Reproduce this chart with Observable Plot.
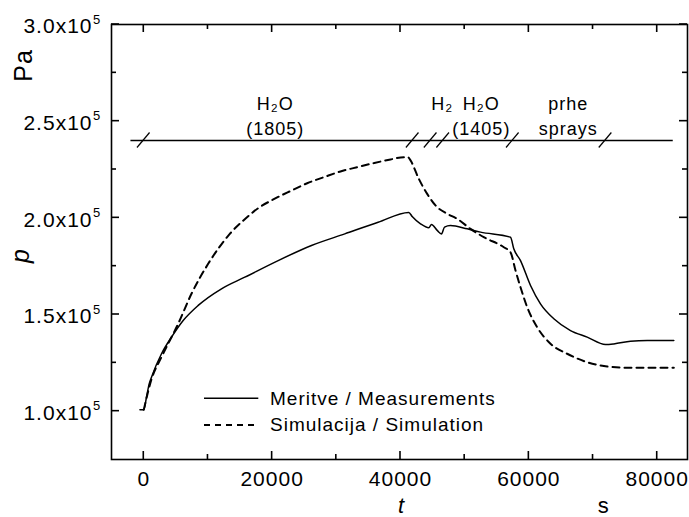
<!DOCTYPE html>
<html><head><meta charset="utf-8">
<script src="https://cdn.jsdelivr.net/npm/d3@7"></script>
<script src="https://cdn.jsdelivr.net/npm/@observablehq/plot@0.6"></script>
<style>html,body{margin:0;padding:0;background:#fff;} #chart{width:689px;height:517px;overflow:hidden;}</style>
</head><body><div id="chart"></div>
<script>
// Measured pressure (solid)
const measTime = [-600, 0, 420, 840, 1200, 2760, 4320, 6140, 8480, 12110, 15740, 20940, 26130, 31320, 36520, 41290, 41820, 43120, 44410, 44830, 45720, 46390, 46860, 47790, 50390, 52470, 57140, 57650, 58700, 60260, 61810, 63890, 66490, 69090, 71940, 73240, 75840, 78440, 82590];
const measP = [100700, 100700, 107200, 114100, 117600, 129700, 138300, 146900, 154700, 163300, 169300, 177900, 185700, 191700, 197700, 202800, 200700, 196900, 194900, 196600, 193500, 191700, 195200, 196000, 194300, 192600, 190000, 184000, 177900, 165000, 155500, 147800, 141700, 138300, 134500, 134800, 136200, 136600, 136600];
// Simulated pressure (dashed)
const simTime = [0, 1200, 2760, 5360, 7430, 10030, 11590, 13400, 15740, 17830, 20410, 23010, 25460, 28050, 30650, 33250, 35840, 38440, 40520, 41140, 41560, 42850, 44160, 45720, 47280, 48830, 50910, 52980, 56100, 57140, 57920, 58700, 59740, 61300, 63370, 65970, 69090, 72210, 75840, 82590];
const simP = [100700, 116500, 128000, 145200, 160700, 176200, 184000, 191700, 199300, 205000, 209900, 214100, 217900, 221000, 224000, 226200, 228300, 230200, 231400, 231400, 229700, 220200, 212400, 205500, 202100, 199500, 194300, 190000, 184800, 182200, 172800, 164100, 153800, 143400, 134900, 129700, 125300, 123100, 122400, 122400];

const seriesNames = ["Meritve / Measurements", "Simulacija / Simulation"];
const xTicks = [0, 20000, 40000, 60000, 80000];
const xMinorTicks = [10000, 30000, 50000, 70000];
const yTicks = [100000, 150000, 200000, 250000, 300000];
const yMinorTicks = [125000, 175000, 225000, 275000];
const yTickLabels = ["1.0x10", "1.5x10", "2.0x10", "2.5x10", "3.0x10"];
const yTickExponent = "5";

// Phase bar
const phaseLevel = 240000;
const phaseSpan = [-2000, 82500];
const phaseBreaks = [0, 41900, 44700, 46650, 57500, 71950];
const phaseLabelTimes = [20500, 46500, 52600, 66150];
const phaseLine1 = ["H₂O", "H₂", "H₂O", "prhe"];
const phaseLine2 = ["(1805)", null, "(1405)", "sprays"];

const width = 689, height = 517, mL = 111, mR = 2, mT = 24, mB = 58;
const fontFamily = "'Liberation Sans', Arial, Helvetica, sans-serif";

const meas = measTime.map((t, i) => ({t, p: measP[i]}));
const sim = simTime.map((t, i) => ({t, p: simP[i]}));

const plot = Plot.plot({
  width, height,
  marginLeft: mL, marginRight: mR, marginTop: mT, marginBottom: mB,
  style: {fontFamily, fontSize: "21px", letterSpacing: "1px", color: "#000", background: "#fff", overflow: "visible"},
  x: {domain: [-5030, 84720], ticks: xTicks, tickSize: 0, tickPadding: 12, tickFormat: d3.format("d"), label: null},
  y: {domain: [75000, 300000], axis: null},
  marks: [
    Plot.ruleY([phaseLevel], {x1: phaseSpan[0], x2: phaseSpan[1], stroke: "#000", strokeWidth: 1.3}),
    Plot.line(meas, {x: "t", y: "p", stroke: "#000", strokeWidth: 1.5, curve: "monotone-x"}),
    Plot.line(sim, {x: "t", y: "p", stroke: "#000", strokeWidth: 2, strokeDasharray: "7,5", curve: "monotone-x"}),
    Plot.frame({stroke: "#000", strokeWidth: 1.6}),
    // y tick labels with superscript exponent
    Plot.text(yTicks, {y: d => d, text: (d, i) => yTickLabels[i], frameAnchor: "left", textAnchor: "end", lineAnchor: "middle", dx: -19, dy: 2, fontSize: 21}),
    Plot.text(yTicks, {y: d => d, text: () => yTickExponent, frameAnchor: "left", textAnchor: "start", lineAnchor: "middle", dx: -18.5, dy: -5, fontSize: 13}),
    // axis titles
    Plot.text(["Pa"], {frameAnchor: "top-left", textAnchor: "middle", lineAnchor: "middle", dx: -88, dy: 41, rotate: -90, fontSize: 25}),
    Plot.text(["p"], {frameAnchor: "top-left", textAnchor: "middle", lineAnchor: "middle", dx: -91, dy: 231, rotate: -90, fontSize: 25, fontStyle: "italic"}),
    Plot.text(["t"], {frameAnchor: "bottom-left", textAnchor: "middle", lineAnchor: "bottom", dx: 290, dy: 53, fontSize: 22, fontStyle: "italic"}),
    Plot.text(["s"], {frameAnchor: "bottom-left", textAnchor: "middle", lineAnchor: "bottom", dx: 492.3, dy: 53, fontSize: 22}),
    // phase labels
    Plot.text(phaseLabelTimes, {x: d => d, y: () => phaseLevel, text: (d, i) => phaseLine1[i], textAnchor: "middle", lineAnchor: "bottom", dy: -31, fontSize: 18}),
    Plot.text(phaseLabelTimes, {x: d => d, y: () => phaseLevel, text: (d, i) => phaseLine2[i], textAnchor: "middle", lineAnchor: "bottom", dy: -5.8, fontSize: 18})
  ]
});

document.getElementById("chart").appendChild(plot);

const xs = plot.scale("x"), ys = plot.scale("y");
const svg = d3.select(plot);
const fx0 = mL, fx1 = width - mR, fy0 = mT, fy1 = height - mB;

// inward ticks on all four sides, placed through Plot's scales
const tickG = svg.append("g").attr("class", "inner-ticks");
const xTickSpecs = xTicks.map(v => ({v, len: 8})).concat(xMinorTicks.map(v => ({v, len: 5})));
const yTickSpecs = yTicks.map(v => ({v, len: 8})).concat(yMinorTicks.map(v => ({v, len: 5})));
const tickSegs = [];
for (const {v, len} of xTickSpecs) {
  const px = xs.apply(v);
  tickSegs.push([px, fy1, px, fy1 - len], [px, fy0, px, fy0 + len]);
}
for (const {v, len} of yTickSpecs) {
  const py = ys.apply(v);
  tickSegs.push([fx0, py, fx0 + len, py], [fx1, py, fx1 - len, py]);
}
tickG.selectAll("line").data(tickSegs).join("line")
  .attr("x1", d => d[0]).attr("y1", d => d[1]).attr("x2", d => d[2]).attr("y2", d => d[3])
  .attr("stroke", "#000").attr("stroke-width", 1.6);

// phase break slashes
const yb = ys.apply(phaseLevel);
svg.append("g")
  .selectAll("line").data(phaseBreaks).join("line")
  .attr("x1", d => xs.apply(d) - 6.3).attr("y1", yb + 7.5)
  .attr("x2", d => xs.apply(d) + 6.3).attr("y2", yb - 7.5)
  .attr("stroke", "#000").attr("stroke-width", 1.2);

// legend
const legendRows = [
  {name: seriesNames[0], dash: null, width: 1.5, y: mT + 374.3},
  {name: seriesNames[1], dash: "6,5", width: 2, y: mT + 401}
];
const lg = svg.append("g").attr("font-size", 19).attr("font-family", fontFamily);
lg.selectAll("line").data(legendRows).join("line")
  .attr("x1", mL + 93).attr("x2", mL + 147.3)
  .attr("y1", d => d.y).attr("y2", d => d.y)
  .attr("stroke", "#000").attr("stroke-width", d => d.width)
  .attr("stroke-dasharray", d => d.dash);
lg.selectAll("text").data(legendRows).join("text")
  .attr("x", mL + 159).attr("y", d => d.y + 6.3)
  .attr("text-anchor", "start").attr("fill", "#000")
  .text(d => d.name);
</script>
</body></html>
